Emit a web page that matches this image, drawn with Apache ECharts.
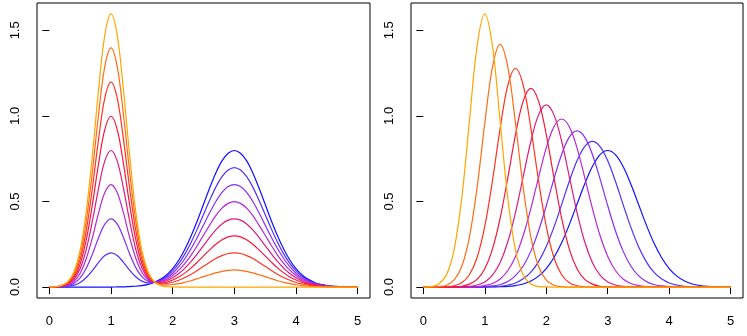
<!DOCTYPE html>
<html>
<head>
<meta charset="utf-8">
<script src="https://cdn.jsdelivr.net/npm/echarts@6/dist/echarts.min.js"></script>
<style>html,body{margin:0;padding:0;background:#fff}#c{width:747px;height:336px}</style>
</head>
<body>
<div id="c"></div>
<script>
// x grids
const xLeft = [0,0.1,0.2,0.3,0.4,0.5,0.6,0.7,0.8,0.9,1,1.1,1.2,1.3,1.4,1.5,1.6,1.7,1.8,1.9,2,2.1,2.2,2.3,2.4,2.5,2.6,2.7,2.8,2.9,3,3.1,3.2,3.3,3.4,3.5,3.6,3.7,3.8,3.9,4,4.1,4.2,4.3,4.4,4.5,4.6,4.7,4.8,4.9,5];
const xRight = [0,0.125,0.25,0.375,0.5,0.625,0.75,0.875,1,1.125,1.25,1.375,1.5,1.625,1.75,1.875,2,2.125,2.25,2.375,2.5,2.625,2.75,2.875,3,3.125,3.25,3.375,3.5,3.625,3.75,3.875,4,4.125,4.25,4.375,4.5,4.625,4.75,4.875,5];

// left panel curves (blue -> orange)
const mix0 = [0,0,0,0,0,0,0,0,0,0,0,0.001,0.001,0.003,0.005,0.009,0.016,0.027,0.045,0.071,0.108,0.158,0.222,0.300,0.388,0.484,0.579,0.667,0.737,0.782,0.798,0.782,0.737,0.667,0.579,0.484,0.388,0.300,0.222,0.158,0.108,0.071,0.045,0.027,0.016,0.009,0.005,0.003,0.001,0.001,0];
const mix1 = [0,0,0.001,0.004,0.011,0.027,0.056,0.097,0.145,0.184,0.200,0.185,0.146,0.099,0.060,0.035,0.025,0.028,0.040,0.062,0.095,0.138,0.194,0.262,0.340,0.424,0.507,0.584,0.645,0.684,0.698,0.684,0.645,0.584,0.507,0.424,0.340,0.262,0.194,0.138,0.095,0.062,0.039,0.024,0.014,0.008,0.004,0.002,0.001,0.001,0];
const mix2 = [0,0.001,0.003,0.008,0.023,0.054,0.111,0.194,0.290,0.368,0.399,0.369,0.291,0.196,0.115,0.061,0.035,0.028,0.036,0.054,0.081,0.119,0.167,0.225,0.291,0.363,0.434,0.500,0.553,0.587,0.599,0.587,0.553,0.500,0.434,0.363,0.291,0.225,0.167,0.119,0.081,0.053,0.034,0.020,0.012,0.007,0.004,0.002,0.001,0,0];
const mix3 = [0,0.001,0.004,0.012,0.034,0.081,0.167,0.291,0.435,0.552,0.599,0.552,0.436,0.293,0.170,0.087,0.044,0.029,0.032,0.045,0.068,0.099,0.139,0.187,0.243,0.303,0.362,0.417,0.461,0.489,0.499,0.489,0.461,0.417,0.362,0.303,0.243,0.187,0.139,0.099,0.068,0.044,0.028,0.017,0.010,0.006,0.003,0.002,0.001,0,0];
const mix4 = [0,0.001,0.005,0.016,0.045,0.108,0.222,0.389,0.580,0.737,0.798,0.737,0.581,0.390,0.224,0.113,0.053,0.030,0.027,0.037,0.054,0.079,0.111,0.150,0.194,0.242,0.290,0.334,0.369,0.391,0.399,0.391,0.369,0.334,0.290,0.242,0.194,0.150,0.111,0.079,0.054,0.036,0.022,0.014,0.008,0.004,0.002,0.001,0.001,0,0];
const mix5 = [0,0.001,0.006,0.020,0.056,0.135,0.278,0.486,0.724,0.921,0.998,0.921,0.725,0.487,0.280,0.138,0.062,0.030,0.023,0.028,0.041,0.059,0.083,0.112,0.146,0.182,0.217,0.250,0.276,0.293,0.299,0.293,0.276,0.250,0.217,0.182,0.146,0.112,0.083,0.059,0.041,0.027,0.017,0.010,0.006,0.003,0.002,0.001,0,0,0];
const mix6 = [0,0.002,0.008,0.024,0.068,0.162,0.333,0.583,0.869,1.105,1.197,1.105,0.869,0.584,0.334,0.164,0.072,0.031,0.019,0.020,0.028,0.040,0.056,0.075,0.097,0.121,0.145,0.167,0.184,0.196,0.200,0.196,0.184,0.167,0.145,0.121,0.097,0.075,0.056,0.040,0.027,0.018,0.011,0.007,0.004,0.002,0.001,0.001,0,0,0];
const mix7 = [0.001,0.002,0.009,0.028,0.079,0.189,0.389,0.680,1.014,1.289,1.397,1.289,1.014,0.680,0.390,0.190,0.081,0.031,0.015,0.011,0.015,0.020,0.028,0.037,0.049,0.061,0.072,0.083,0.092,0.098,0.100,0.098,0.092,0.083,0.072,0.061,0.049,0.037,0.028,0.020,0.014,0.009,0.006,0.003,0.002,0.001,0.001,0,0,0,0];
const mix8 = [0.001,0.002,0.010,0.032,0.090,0.216,0.444,0.777,1.159,1.473,1.596,1.473,1.159,0.777,0.444,0.216,0.090,0.032,0.010,0.002,0.001,0,0,0,0,0,0,0,0,0,0,0,0,0,0,0,0,0,0,0,0,0,0,0,0,0,0,0,0,0,0];

// right panel curves (blue -> orange)
const shift0 = [0,0,0,0,0,0,0,0,0,0.001,0.002,0.004,0.009,0.018,0.035,0.064,0.108,0.173,0.259,0.365,0.484,0.602,0.704,0.774,0.798,0.774,0.704,0.602,0.484,0.365,0.259,0.173,0.108,0.064,0.035,0.018,0.009,0.004,0.002,0.001,0];
const shift1 = [0,0,0,0,0,0,0,0,0.001,0.002,0.005,0.012,0.024,0.048,0.087,0.149,0.237,0.350,0.482,0.618,0.738,0.821,0.851,0.821,0.738,0.618,0.482,0.350,0.237,0.149,0.087,0.048,0.024,0.012,0.005,0.002,0.001,0,0,0,0];
const shift2 = [0,0,0,0,0,0,0,0.001,0.003,0.007,0.015,0.033,0.067,0.123,0.210,0.329,0.475,0.632,0.775,0.876,0.912,0.876,0.775,0.632,0.475,0.329,0.210,0.123,0.067,0.033,0.015,0.007,0.003,0.001,0,0,0,0,0,0,0];
const shift3 = [0,0,0,0,0,0,0.001,0.003,0.009,0.021,0.047,0.097,0.179,0.301,0.460,0.641,0.813,0.937,0.982,0.937,0.813,0.641,0.460,0.301,0.179,0.097,0.047,0.021,0.009,0.003,0.001,0,0,0,0,0,0,0,0,0,0];
const shift4 = [0,0,0,0,0,0.001,0.004,0.012,0.030,0.070,0.144,0.265,0.437,0.645,0.852,1.006,1.064,1.006,0.852,0.645,0.437,0.265,0.144,0.070,0.030,0.012,0.004,0.001,0,0,0,0,0,0,0,0,0,0,0,0,0];
const shift5 = [0,0,0,0,0.002,0.005,0.017,0.045,0.107,0.222,0.403,0.640,0.891,1.086,1.161,1.086,0.891,0.640,0.403,0.222,0.107,0.045,0.017,0.005,0.002,0,0,0,0,0,0,0,0,0,0,0,0,0,0,0,0];
const shift6 = [0,0,0,0.002,0.008,0.025,0.072,0.173,0.355,0.621,0.927,1.179,1.277,1.179,0.927,0.621,0.355,0.173,0.072,0.025,0.008,0.002,0,0,0,0,0,0,0,0,0,0,0,0,0,0,0,0,0,0,0];
const shift7 = [0,0,0.003,0.011,0.041,0.120,0.292,0.583,0.956,1.285,1.418,1.285,0.956,0.583,0.292,0.120,0.041,0.011,0.003,0,0,0,0,0,0,0,0,0,0,0,0,0,0,0,0,0,0,0,0,0,0];
const shift8 = [0.001,0.003,0.018,0.070,0.216,0.518,0.968,1.408,1.596,1.408,0.968,0.518,0.216,0.070,0.018,0.003,0.001,0,0,0,0,0,0,0,0,0,0,0,0,0,0,0,0,0,0,0,0,0,0,0,0];

const colors = ['#1010FF','#5030F8','#8A2CF0','#B428D8','#DC1C7C','#F4183C','#FF3420','#FF6C14','#FFA500'];
const xTicks = [0,1,2,3,4,5];
const yTicks = [0,0.5,1,1.5];
const yTickLabels = ['0.0','0.5','1.0','1.5'];

const mixCurves = [mix0,mix1,mix2,mix3,mix4,mix5,mix6,mix7,mix8];
const shiftCurves = [shift0,shift1,shift2,shift3,shift4,shift5,shift6,shift7,shift8];

const font = 'Liberation Sans, Arial, Helvetica, sans-serif';
const gridBase = {top:3,bottom:38,show:true,borderColor:'#000',borderWidth:1,backgroundColor:'transparent',outerBoundsMode:'none',containLabel:false};

function xAx(i){
  return {type:'value',gridIndex:i,min:-0.2,max:5.2,
    axisLine:{show:false},splitLine:{show:false},
    axisTick:{show:true,length:7,lineStyle:{color:'#000',width:1},customValues:xTicks},
    axisLabel:{customValues:xTicks,margin:17,fontSize:13,color:'#000',fontFamily:font,formatter:v=>String(v)}};
}
function yAx(i){
  return {type:'value',gridIndex:i,min:-0.0638,max:1.6596,
    axisLine:{show:false},splitLine:{show:false},
    axisTick:{show:true,length:7,lineStyle:{color:'#000',width:1},customValues:yTicks},
    axisLabel:{customValues:yTicks,margin:15,rotate:90,fontSize:13,color:'#000',fontFamily:font,
      formatter:v=>{const k=yTicks.findIndex(t=>Math.abs(t-v)<1e-9);return k>=0?yTickLabels[k]:'';}}};
}

const series = [];
mixCurves.forEach((c,j)=>{
  series.push({type:'line',xAxisIndex:0,yAxisIndex:0,data:xLeft.map((x,i)=>[x,c[i]]),
    showSymbol:false,smooth:0.35,silent:true,color:colors[j],lineStyle:{width:1.2,color:colors[j]}});
});
shiftCurves.forEach((c,j)=>{
  series.push({type:'line',xAxisIndex:1,yAxisIndex:1,data:xRight.map((x,i)=>[x,c[i]]),
    showSymbol:false,smooth:0.35,silent:true,color:colors[j],lineStyle:{width:1.2,color:colors[j]}});
});

const chart = echarts.init(document.getElementById('c'),null,{renderer:'canvas'});
chart.setOption({
  animation:false,
  grid:[Object.assign({left:37,right:377},gridBase),Object.assign({left:411,right:4},gridBase)],
  xAxis:[xAx(0),xAx(1)],
  yAxis:[yAx(0),yAx(1)],
  series:series
});
</script>
</body>
</html>
